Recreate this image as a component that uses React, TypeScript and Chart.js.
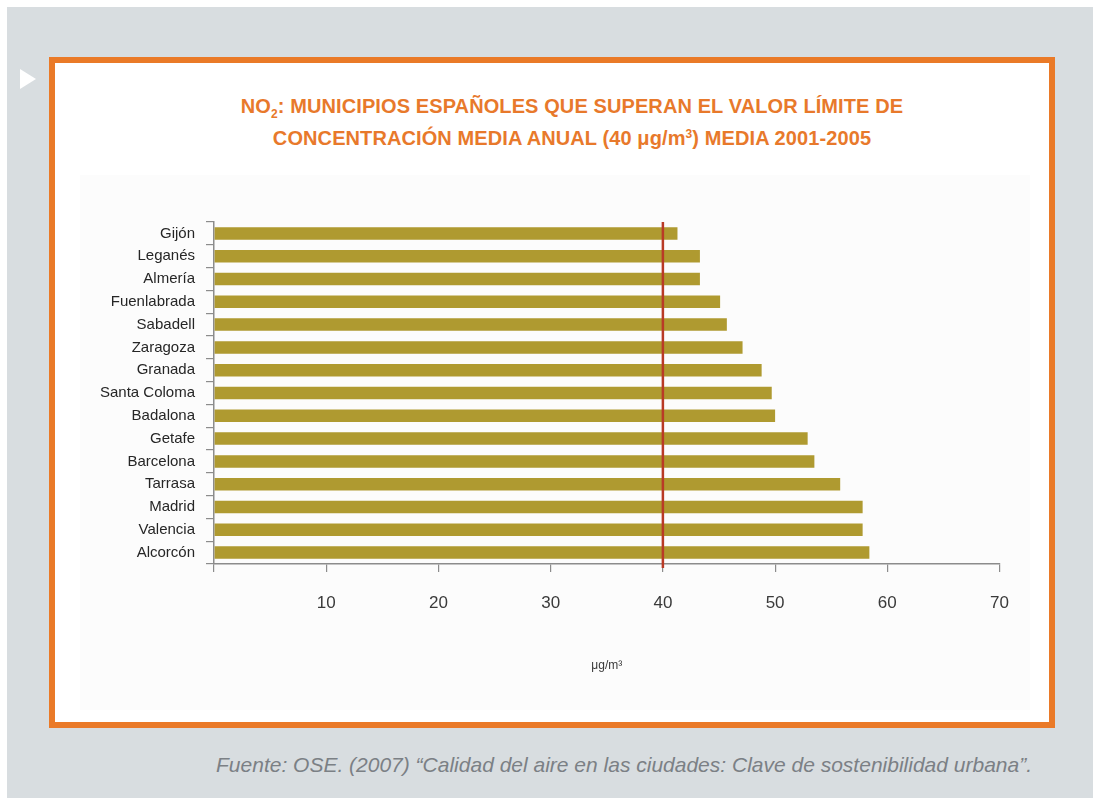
import React, { useEffect, useRef } from "react";
import { Chart, registerables } from "chart.js";

Chart.register(...registerables);

const cities = [
  "Gijón",
  "Leganés",
  "Almería",
  "Fuenlabrada",
  "Sabadell",
  "Zaragoza",
  "Granada",
  "Santa Coloma",
  "Badalona",
  "Getafe",
  "Barcelona",
  "Tarrasa",
  "Madrid",
  "Valencia",
  "Alcorcón",
];

const no2Values = [41.3, 43.3, 43.3, 45.1, 45.7, 47.1, 48.8, 49.7, 50.0, 52.9, 53.5, 55.8, 57.8, 57.8, 58.4];

const limitValue = 40;
const xMin = 0;
const xMax = 70;
const xStep = 10;
const xAxisTitle = "μg/m³";

const FONT = "'Liberation Sans', Arial, Helvetica, sans-serif";

const limitLinePlugin = {
  id: "limitLine",
  afterDatasetsDraw(chart: any) {
    const { ctx, chartArea, scales } = chart;
    const x = scales.x.getPixelForValue(limitValue);
    ctx.save();
    ctx.strokeStyle = "#B93A26";
    ctx.lineWidth = 2.5;
    ctx.beginPath();
    ctx.moveTo(x, chartArea.top);
    ctx.lineTo(x, chartArea.bottom + 4);
    ctx.stroke();
    ctx.restore();
  },
};

function NO2Chart() {
  const ref = useRef<HTMLCanvasElement | null>(null);
  useEffect(() => {
    if (!ref.current) return;
    const chart = new Chart(ref.current, {
      type: "bar",
      data: {
        labels: cities,
        datasets: [
          {
            data: no2Values,
            backgroundColor: "#AF9A30",
            borderWidth: 0,
            barPercentage: 0.55,
            categoryPercentage: 1,
          },
        ],
      },
      options: {
        indexAxis: "y",
        responsive: false,
        animation: false,
        devicePixelRatio: 1,
        layout: { padding: { top: 42, right: 30, left: 0, bottom: 0 } },
        plugins: {
          legend: { display: false },
          tooltip: { enabled: false },
          title: { display: false },
        },
        scales: {
          x: {
            type: "linear",
            min: xMin,
            max: xMax,
            ticks: {
              stepSize: xStep,
              padding: 21,
              color: "#3a3a3a",
              font: { family: FONT, size: 17 },
              callback: (v: any) => (v === 0 ? "" : String(v)),
            },
            grid: {
              drawOnChartArea: false,
              drawTicks: true,
              tickLength: 8,
              color: "#8c8c8c",
              lineWidth: 1.2,
            },
            border: { display: true, color: "#8c8c8c", width: 1.5 },
            title: {
              display: true,
              text: xAxisTitle,
              color: "#3a3a3a",
              font: { family: FONT, size: 12 },
              padding: { top: 0, bottom: 7 },
            },
            afterFit: (scale: any) => {
              scale.height = 116;
            },
          },
          y: {
            type: "category",
            ticks: {
              padding: 11,
              color: "#262626",
              font: { family: FONT, size: 15 },
            },
            grid: {
              offset: true,
              drawOnChartArea: false,
              drawTicks: true,
              tickLength: 8,
              color: "#8c8c8c",
              lineWidth: 1.2,
            },
            border: { display: true, color: "#8c8c8c", width: 1.5 },
            afterFit: (scale: any) => {
              scale.width = 134;
            },
          },
        },
      },
      plugins: [limitLinePlugin],
    });
    return () => chart.destroy();
  }, []);
  return (
    <canvas
      ref={ref}
      width={950}
      height={500}
      style={{ position: "absolute", left: 80, top: 180, width: 950, height: 500 }}
    />
  );
}

export default function App() {
  useEffect(() => {
    document.body.style.margin = "0";
  }, []);
  const lineStyle: React.CSSProperties = { height: 32, lineHeight: "32px", whiteSpace: "nowrap" };
  return (
    <div
      style={{
        position: "relative",
        width: 1093,
        height: 798,
        background: "#ffffff",
        overflow: "hidden",
        fontFamily: FONT,
      }}
    >
      <div
        style={{
          position: "absolute",
          left: 7,
          top: 7,
          width: 1086,
          height: 791,
          background: "#D8DDE0",
        }}
      />
      <div
        style={{
          position: "absolute",
          left: 20,
          top: 69,
          width: 0,
          height: 0,
          borderTop: "10px solid transparent",
          borderBottom: "10px solid transparent",
          borderLeft: "16px solid #ffffff",
        }}
      />
      <div
        style={{
          position: "absolute",
          left: 49,
          top: 57,
          width: 1006 - 12,
          height: 671 - 12,
          border: "6px solid #EA7A28",
          background: "#ffffff",
        }}
      />
      <div
        style={{
          position: "absolute",
          left: 80,
          top: 175,
          width: 950,
          height: 535,
          background: "#FCFCFC",
        }}
      />
      <div
        style={{
          position: "absolute",
          left: 172,
          top: 90,
          width: 800,
          textAlign: "center",
          color: "#E8792B",
          fontWeight: "bold",
          fontSize: 20,
          letterSpacing: "0.1px",
        }}
      >
        <div style={lineStyle}>
          NO<sub style={{ fontSize: 12, lineHeight: 0, verticalAlign: "-5px" }}>2</sub>: MUNICIPIOS ESPAÑOLES QUE SUPERAN EL VALOR LÍMITE DE
        </div>
        <div style={lineStyle}>
          CONCENTRACIÓN MEDIA ANUAL (40 μg/m<sup style={{ fontSize: 12, lineHeight: 0, verticalAlign: "7px" }}>3</sup>) MEDIA 2001-2005
        </div>
      </div>
      <NO2Chart />
      <div
        style={{
          position: "absolute",
          right: 61,
          top: 752,
          whiteSpace: "nowrap",
          fontStyle: "italic",
          color: "#7B8085",
          fontSize: 21,
          lineHeight: "26px",
        }}
      >
        Fuente: OSE. (2007) “Calidad del aire en las ciudades: Clave de sostenibilidad urbana”.
      </div>
    </div>
  );
}
